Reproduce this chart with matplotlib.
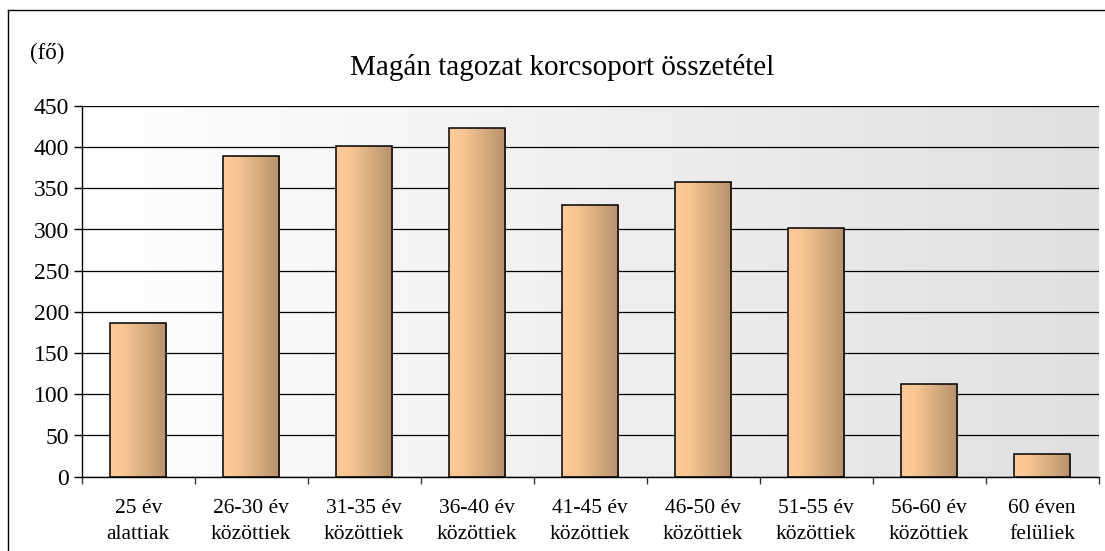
import matplotlib
matplotlib.use("Agg")
import matplotlib.pyplot as plt
import numpy as np
from matplotlib.colors import LinearSegmentedColormap
from matplotlib.lines import Line2D

plt.rcParams['font.family'] = ['Liberation Serif', 'DejaVu Serif']

# --- data ---
categories = ["25 év\nalattiak", "26-30 év\nközöttiek", "31-35 év\nközöttiek",
              "36-40 év\nközöttiek", "41-45 év\nközöttiek", "46-50 év\nközöttiek",
              "51-55 év\nközöttiek", "56-60 év\nközöttiek", "60 éven\nfelüliek"]
counts = [187, 389, 401, 423, 330, 358, 302, 112, 27]
y_ticks = [0, 50, 100, 150, 200, 250, 300, 350, 400, 450]
title = "Magán tagozat korcsoport összetétel"
unit_label = "(fő)"

W, H = 1105, 551
fig = plt.figure(figsize=(W / 100, H / 100), dpi=100)
fig.patch.set_facecolor("white")

# outer chart frame (only top and left edges visible in the crop)
fig.add_artist(Line2D([8 / W, 8 / W], [0, 1 - 10 / H], color="black", lw=1.0))
fig.add_artist(Line2D([8 / W, 1], [1 - 10 / H, 1 - 10 / H], color="black", lw=1.0))

left, right = 81.7 / W, 1098.7 / W
bottom, top = 1 - 476.7 / H, 1 - 105.9 / H
ax = fig.add_axes([left, bottom, right - left, top - bottom])

x = np.arange(len(categories))
ax.set_xlim(-0.5, len(categories) - 0.5)
ax.set_ylim(0, 450)

# plot area gradient: white on the left to light grey on the right
bg = LinearSegmentedColormap.from_list("bg", ["#ffffff", "#e0e0e0"])
grad = np.linspace(0, 1, 256).reshape(1, -1)
ax.imshow(grad, cmap=bg, aspect="auto", extent=[-0.5, len(categories) - 0.5, 0, 450],
          zorder=0, interpolation="bicubic")

# gridlines
ax.set_yticks(y_ticks)
ax.yaxis.grid(True, color="black", lw=0.9, zorder=1)
ax.set_axisbelow(True)

# bars with a horizontal peach -> brown gradient
bar_cmap = LinearSegmentedColormap.from_list(
    "bar", [(0.0, "#ffcc99"), (0.25, "#f8c693"), (1.0, "#b5916c")])
bars = ax.bar(x, counts, width=0.5, facecolor="none", edgecolor="black",
              linewidth=1.1, zorder=3)
for b in bars:
    x0, y0 = b.get_x(), b.get_y()
    img = ax.imshow(grad, cmap=bar_cmap, aspect="auto",
                    extent=[x0, x0 + b.get_width(), y0, y0 + b.get_height()],
                    zorder=2, interpolation="bicubic")
    img.set_clip_path(b)

# axes styling
for s in ["top", "right"]:
    ax.spines[s].set_visible(False)
ax.spines["left"].set_color("black")
ax.spines["bottom"].set_color("black")
ax.spines["left"].set_linewidth(1.0)
ax.spines["bottom"].set_linewidth(1.0)

ax.tick_params(axis="y", direction="out", length=6, width=1.0, colors="black",
               labelsize=17, pad=3)
# x ticks at category boundaries, labels under the bars
ax.set_xticks(np.arange(-0.5, len(categories), 1.0))
ax.set_xticklabels([])
ax.set_xticks(x, minor=True)
ax.set_xticklabels(categories, minor=True, fontsize=15.5, linespacing=1.5)
ax.tick_params(axis="x", which="major", direction="out", length=5, width=1.0, colors="#333333")
ax.tick_params(axis="x", which="minor", length=0, pad=16)

# title and unit
fig.text(562 / W, 1 - 75 / H, title, ha="center", va="baseline", fontsize=21)
fig.text(30 / W, 1 - 59 / H, unit_label, ha="left", va="baseline", fontsize=16.5)

fig.savefig("out.png", dpi=100)
